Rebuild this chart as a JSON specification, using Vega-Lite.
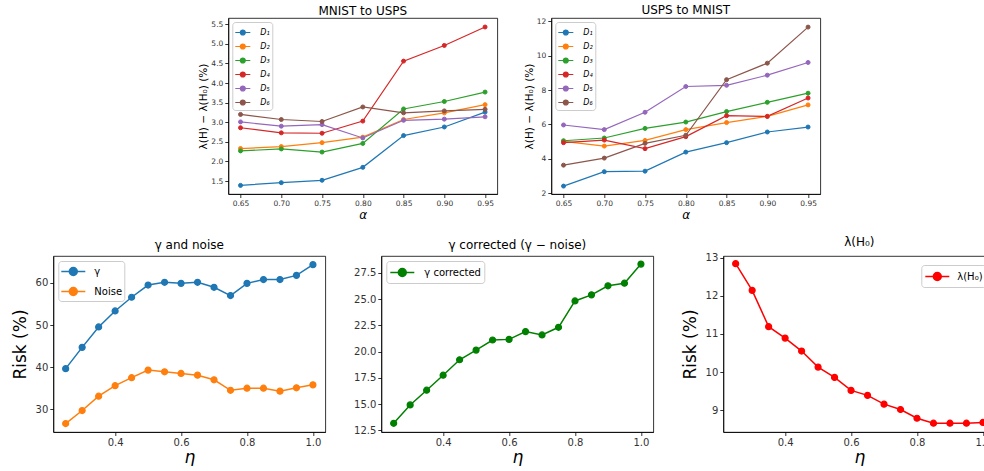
{
  "$schema": "https://vega.github.io/schema/vega-lite/v6.json",
  "padding": {"left": 10, "top": 4, "right": 0, "bottom": 0},
  "background": "white",
  "datasets": {
    "mu": [
      {"a":0.65,"s":"D₁","v":1.39},{"a":0.70,"s":"D₁","v":1.46},{"a":0.75,"s":"D₁","v":1.52},{"a":0.80,"s":"D₁","v":1.85},{"a":0.85,"s":"D₁","v":2.66},{"a":0.90,"s":"D₁","v":2.88},{"a":0.95,"s":"D₁","v":3.26},
      {"a":0.65,"s":"D₂","v":2.33},{"a":0.70,"s":"D₂","v":2.38},{"a":0.75,"s":"D₂","v":2.48},{"a":0.80,"s":"D₂","v":2.62},{"a":0.85,"s":"D₂","v":3.07},{"a":0.90,"s":"D₂","v":3.24},{"a":0.95,"s":"D₂","v":3.45},
      {"a":0.65,"s":"D₃","v":2.27},{"a":0.70,"s":"D₃","v":2.32},{"a":0.75,"s":"D₃","v":2.24},{"a":0.80,"s":"D₃","v":2.46},{"a":0.85,"s":"D₃","v":3.34},{"a":0.90,"s":"D₃","v":3.53},{"a":0.95,"s":"D₃","v":3.77},
      {"a":0.65,"s":"D₄","v":2.86},{"a":0.70,"s":"D₄","v":2.73},{"a":0.75,"s":"D₄","v":2.72},{"a":0.80,"s":"D₄","v":3.03},{"a":0.85,"s":"D₄","v":4.56},{"a":0.90,"s":"D₄","v":4.96},{"a":0.95,"s":"D₄","v":5.43},
      {"a":0.65,"s":"D₅","v":3.01},{"a":0.70,"s":"D₅","v":2.90},{"a":0.75,"s":"D₅","v":2.94},{"a":0.80,"s":"D₅","v":2.60},{"a":0.85,"s":"D₅","v":3.05},{"a":0.90,"s":"D₅","v":3.08},{"a":0.95,"s":"D₅","v":3.14},
      {"a":0.65,"s":"D₆","v":3.20},{"a":0.70,"s":"D₆","v":3.07},{"a":0.75,"s":"D₆","v":3.02},{"a":0.80,"s":"D₆","v":3.39},{"a":0.85,"s":"D₆","v":3.24},{"a":0.90,"s":"D₆","v":3.29},{"a":0.95,"s":"D₆","v":3.33}
    ],
    "um": [
      {"a":0.65,"s":"D₁","v":2.41},{"a":0.70,"s":"D₁","v":3.25},{"a":0.75,"s":"D₁","v":3.28},{"a":0.80,"s":"D₁","v":4.39},{"a":0.85,"s":"D₁","v":4.94},{"a":0.90,"s":"D₁","v":5.56},{"a":0.95,"s":"D₁","v":5.85},
      {"a":0.65,"s":"D₂","v":5.02},{"a":0.70,"s":"D₂","v":4.74},{"a":0.75,"s":"D₂","v":5.07},{"a":0.80,"s":"D₂","v":5.70},{"a":0.85,"s":"D₂","v":6.11},{"a":0.90,"s":"D₂","v":6.47},{"a":0.95,"s":"D₂","v":7.14},
      {"a":0.65,"s":"D₃","v":5.05},{"a":0.70,"s":"D₃","v":5.21},{"a":0.75,"s":"D₃","v":5.77},{"a":0.80,"s":"D₃","v":6.14},{"a":0.85,"s":"D₃","v":6.75},{"a":0.90,"s":"D₃","v":7.29},{"a":0.95,"s":"D₃","v":7.82},
      {"a":0.65,"s":"D₄","v":4.94},{"a":0.70,"s":"D₄","v":5.09},{"a":0.75,"s":"D₄","v":4.59},{"a":0.80,"s":"D₄","v":5.29},{"a":0.85,"s":"D₄","v":6.51},{"a":0.90,"s":"D₄","v":6.47},{"a":0.95,"s":"D₄","v":7.54},
      {"a":0.65,"s":"D₅","v":5.97},{"a":0.70,"s":"D₅","v":5.70},{"a":0.75,"s":"D₅","v":6.71},{"a":0.80,"s":"D₅","v":8.21},{"a":0.85,"s":"D₅","v":8.28},{"a":0.90,"s":"D₅","v":8.87},{"a":0.95,"s":"D₅","v":9.61},
      {"a":0.65,"s":"D₆","v":3.63},{"a":0.70,"s":"D₆","v":4.04},{"a":0.75,"s":"D₆","v":4.90},{"a":0.80,"s":"D₆","v":5.37},{"a":0.85,"s":"D₆","v":8.61},{"a":0.90,"s":"D₆","v":9.57},{"a":0.95,"s":"D₆","v":11.67}
    ],
    "gn": [
      {"e":0.25,"s":"γ","v":39.65},{"e":0.30,"s":"γ","v":44.7},{"e":0.35,"s":"γ","v":49.55},{"e":0.40,"s":"γ","v":53.35},{"e":0.45,"s":"γ","v":56.6},{"e":0.50,"s":"γ","v":59.5},{"e":0.55,"s":"γ","v":60.15},{"e":0.60,"s":"γ","v":59.9},{"e":0.65,"s":"γ","v":60.15},{"e":0.70,"s":"γ","v":58.97},{"e":0.75,"s":"γ","v":57.0},{"e":0.80,"s":"γ","v":59.9},{"e":0.85,"s":"γ","v":60.8},{"e":0.90,"s":"γ","v":60.8},{"e":0.95,"s":"γ","v":61.8},{"e":1.0,"s":"γ","v":64.35},
      {"e":0.25,"s":"Noise","v":26.6},{"e":0.30,"s":"Noise","v":29.7},{"e":0.35,"s":"Noise","v":33.1},{"e":0.40,"s":"Noise","v":35.6},{"e":0.45,"s":"Noise","v":37.5},{"e":0.50,"s":"Noise","v":39.3},{"e":0.55,"s":"Noise","v":38.9},{"e":0.60,"s":"Noise","v":38.5},{"e":0.65,"s":"Noise","v":38.1},{"e":0.70,"s":"Noise","v":37.0},{"e":0.75,"s":"Noise","v":34.5},{"e":0.80,"s":"Noise","v":35.0},{"e":0.85,"s":"Noise","v":35.0},{"e":0.90,"s":"Noise","v":34.3},{"e":0.95,"s":"Noise","v":35.1},{"e":1.0,"s":"Noise","v":35.8}
    ],
    "gc": [
      {"e":0.25,"s":"γ corrected","v":13.17},{"e":0.30,"s":"γ corrected","v":14.92},{"e":0.35,"s":"γ corrected","v":16.32},{"e":0.40,"s":"γ corrected","v":17.75},{"e":0.45,"s":"γ corrected","v":19.22},{"e":0.50,"s":"γ corrected","v":20.14},{"e":0.55,"s":"γ corrected","v":21.1},{"e":0.60,"s":"γ corrected","v":21.16},{"e":0.65,"s":"γ corrected","v":21.9},{"e":0.70,"s":"γ corrected","v":21.58},{"e":0.75,"s":"γ corrected","v":22.31},{"e":0.80,"s":"γ corrected","v":24.82},{"e":0.85,"s":"γ corrected","v":25.4},{"e":0.90,"s":"γ corrected","v":26.26},{"e":0.95,"s":"γ corrected","v":26.51},{"e":1.0,"s":"γ corrected","v":28.33}
    ],
    "lh": [
      {"e":0.25,"s":"λ(H₀)","v":12.84},{"e":0.30,"s":"λ(H₀)","v":12.14},{"e":0.35,"s":"λ(H₀)","v":11.19},{"e":0.40,"s":"λ(H₀)","v":10.89},{"e":0.45,"s":"λ(H₀)","v":10.55},{"e":0.50,"s":"λ(H₀)","v":10.13},{"e":0.55,"s":"λ(H₀)","v":9.86},{"e":0.60,"s":"λ(H₀)","v":9.52},{"e":0.65,"s":"λ(H₀)","v":9.39},{"e":0.70,"s":"λ(H₀)","v":9.16},{"e":0.75,"s":"λ(H₀)","v":9.02},{"e":0.80,"s":"λ(H₀)","v":8.79},{"e":0.85,"s":"λ(H₀)","v":8.66},{"e":0.90,"s":"λ(H₀)","v":8.66},{"e":0.95,"s":"λ(H₀)","v":8.66},{"e":1.0,"s":"λ(H₀)","v":8.68}
    ]
  },
  "vconcat": [
    {
      "hconcat": [
        {
          "width": 269, "height": 176,
          "title": {"text": "MNIST to USPS", "fontSize": 12, "offset": 0},
          "data": {"name": "mu"},
          "encoding": {
            "x": {"field": "a", "type": "quantitative", "scale": {"domain": [0.635, 0.965], "nice": false, "zero": false}, "axis": {"values": [0.65,0.70,0.75,0.80,0.85,0.90,0.95], "format": ".2f", "title": "α", "titleFontStyle": "italic", "titleFontSize": 12, "labelFontSize": 7.5, "titlePadding": 2}},
            "y": {"field": "v", "type": "quantitative", "scale": {"domain": [1.17, 5.66], "nice": false, "zero": false}, "axis": {"values": [1.5,2.0,2.5,3.0,3.5,4.0,4.5,5.0,5.5], "format": ".1f", "title": "λ(H) − λ(H₀)   (%)", "titleFontSize": 10.5, "labelFontSize": 7.5, "titlePadding": 2}}
          },
          "layer": [
            {"mark": {"type": "line", "strokeWidth": 1.2}, "encoding": {"stroke": {"field": "s", "type": "nominal", "scale": {"domain": ["D₁","D₂","D₃","D₄","D₅","D₆"], "range": ["#1f77b4","#ff7f0e","#2ca02c","#d62728","#9467bd","#8c564b"]}, "legend": {"orient": "top-left", "offset": 4, "title": null, "labelFontSize": 8, "labelFontStyle": "italic", "symbolType": "M-1,0H1M-0.33,0A0.33,0.33,0,1,1,0.33,0A0.33,0.33,0,1,1,-0.33,0Z", "symbolSize": 225, "symbolStrokeWidth": 1.2, "rowPadding": 0, "padding": 2, "labelOffset": 9}}}},
            {"mark": {"type": "point", "filled": true, "size": 16, "strokeWidth": 1, "opacity": 1}, "encoding": {
              "fill": {"field": "s", "type": "nominal", "scale": {"domain": ["D₁","D₂","D₃","D₄","D₅","D₆"], "range": ["#1f77b4","#ff7f0e","#2ca02c","#d62728","#9467bd","#8c564b"]}, "legend": {"orient": "top-left", "offset": 4, "title": null, "labelFontSize": 8, "labelFontStyle": "italic", "symbolType": "M-1,0H1M-0.33,0A0.33,0.33,0,1,1,0.33,0A0.33,0.33,0,1,1,-0.33,0Z", "symbolSize": 225, "symbolStrokeWidth": 1.2, "rowPadding": 0, "padding": 2, "labelOffset": 9}},
              "stroke": {"field": "s", "type": "nominal", "scale": {"domain": ["D₁","D₂","D₃","D₄","D₅","D₆"], "range": ["#1f77b4","#ff7f0e","#2ca02c","#d62728","#9467bd","#8c564b"]}, "legend": {"orient": "top-left", "offset": 4, "title": null, "labelFontSize": 8, "labelFontStyle": "italic", "symbolType": "M-1,0H1M-0.33,0A0.33,0.33,0,1,1,0.33,0A0.33,0.33,0,1,1,-0.33,0Z", "symbolSize": 225, "symbolStrokeWidth": 1.2, "rowPadding": 0, "padding": 2, "labelOffset": 9}}
            }}
          ]
        },
        {
          "width": 269, "height": 176,
          "title": {"text": "USPS to MNIST", "fontSize": 12, "offset": 0},
          "data": {"name": "um"},
          "encoding": {
            "x": {"field": "a", "type": "quantitative", "scale": {"domain": [0.635, 0.965], "nice": false, "zero": false}, "axis": {"values": [0.65,0.70,0.75,0.80,0.85,0.90,0.95], "format": ".2f", "title": "α", "titleFontStyle": "italic", "titleFontSize": 12, "labelFontSize": 7.5, "titlePadding": 2}},
            "y": {"field": "v", "type": "quantitative", "scale": {"domain": [1.95, 12.2], "nice": false, "zero": false}, "axis": {"values": [2,4,6,8,10,12], "format": "d", "title": "λ(H) − λ(H₀)   (%)", "titleFontSize": 10.5, "labelFontSize": 7.5, "titlePadding": 2}}
          },
          "layer": [
            {"mark": {"type": "line", "strokeWidth": 1.2}, "encoding": {"stroke": {"field": "s", "type": "nominal", "scale": {"domain": ["D₁","D₂","D₃","D₄","D₅","D₆"], "range": ["#1f77b4","#ff7f0e","#2ca02c","#d62728","#9467bd","#8c564b"]}, "legend": {"orient": "top-left", "offset": 4, "title": null, "labelFontSize": 8, "labelFontStyle": "italic", "symbolType": "M-1,0H1M-0.33,0A0.33,0.33,0,1,1,0.33,0A0.33,0.33,0,1,1,-0.33,0Z", "symbolSize": 225, "symbolStrokeWidth": 1.2, "rowPadding": 0, "padding": 2, "labelOffset": 9}}}},
            {"mark": {"type": "point", "filled": true, "size": 16, "strokeWidth": 1, "opacity": 1}, "encoding": {
              "fill": {"field": "s", "type": "nominal", "scale": {"domain": ["D₁","D₂","D₃","D₄","D₅","D₆"], "range": ["#1f77b4","#ff7f0e","#2ca02c","#d62728","#9467bd","#8c564b"]}, "legend": {"orient": "top-left", "offset": 4, "title": null, "labelFontSize": 8, "labelFontStyle": "italic", "symbolType": "M-1,0H1M-0.33,0A0.33,0.33,0,1,1,0.33,0A0.33,0.33,0,1,1,-0.33,0Z", "symbolSize": 225, "symbolStrokeWidth": 1.2, "rowPadding": 0, "padding": 2, "labelOffset": 9}},
              "stroke": {"field": "s", "type": "nominal", "scale": {"domain": ["D₁","D₂","D₃","D₄","D₅","D₆"], "range": ["#1f77b4","#ff7f0e","#2ca02c","#d62728","#9467bd","#8c564b"]}, "legend": {"orient": "top-left", "offset": 4, "title": null, "labelFontSize": 8, "labelFontStyle": "italic", "symbolType": "M-1,0H1M-0.33,0A0.33,0.33,0,1,1,0.33,0A0.33,0.33,0,1,1,-0.33,0Z", "symbolSize": 225, "symbolStrokeWidth": 1.2, "rowPadding": 0, "padding": 2, "labelOffset": 9}}
            }}
          ]
        }
      ],
      "spacing": 25,
      "resolve": {"scale": {"fill": "independent", "stroke": "independent", "color": "independent"}}
    },
    {
      "hconcat": [
        {
          "width": 272, "height": 176,
          "title": {"text": "γ and noise", "fontSize": 12, "offset": 4},
          "data": {"name": "gn"},
          "encoding": {
            "x": {"field": "e", "type": "quantitative", "scale": {"domain": [0.2125, 1.0375], "nice": false, "zero": false}, "axis": {"values": [0.4,0.6,0.8,1.0], "format": ".1f", "title": "η", "titleFontStyle": "italic", "titleFontSize": 17, "labelFontSize": 10, "titlePadding": 2}},
            "y": {"field": "v", "type": "quantitative", "scale": {"domain": [24.6, 66.4], "nice": false, "zero": false}, "axis": {"values": [30,40,50,60], "format": "d", "title": "Risk (%)", "titleFontSize": 17, "labelFontSize": 10, "titlePadding": 6}}
          },
          "layer": [
            {"mark": {"type": "line", "strokeWidth": 1.5}, "encoding": {"stroke": {"field": "s", "type": "nominal", "scale": {"domain": ["γ","Noise"], "range": ["#1f77b4","#ff7f0e"]}, "legend": {"orient": "top-left", "offset": 5, "title": null, "labelFontSize": 10, "symbolType": "M-1,0H2.2M0.07,0A0.53,0.53,0,1,1,1.13,0A0.53,0.53,0,1,1,0.07,0Z", "symbolSize": 225, "symbolStrokeWidth": 1.5, "rowPadding": 4, "padding": 2, "labelOffset": 17}}}},
            {"mark": {"type": "point", "filled": true, "size": 36, "strokeWidth": 1.2, "opacity": 1}, "encoding": {
              "fill": {"field": "s", "type": "nominal", "scale": {"domain": ["γ","Noise"], "range": ["#1f77b4","#ff7f0e"]}, "legend": {"orient": "top-left", "offset": 5, "title": null, "labelFontSize": 10, "symbolType": "M-1,0H2.2M0.07,0A0.53,0.53,0,1,1,1.13,0A0.53,0.53,0,1,1,0.07,0Z", "symbolSize": 225, "symbolStrokeWidth": 1.5, "rowPadding": 4, "padding": 2, "labelOffset": 17}},
              "stroke": {"field": "s", "type": "nominal", "scale": {"domain": ["γ","Noise"], "range": ["#1f77b4","#ff7f0e"]}, "legend": {"orient": "top-left", "offset": 5, "title": null, "labelFontSize": 10, "symbolType": "M-1,0H2.2M0.07,0A0.53,0.53,0,1,1,1.13,0A0.53,0.53,0,1,1,0.07,0Z", "symbolSize": 225, "symbolStrokeWidth": 1.5, "rowPadding": 4, "padding": 2, "labelOffset": 17}}
            }}
          ]
        },
        {
          "width": 272, "height": 176,
          "title": {"text": "γ corrected (γ − noise)", "fontSize": 12, "offset": 4},
          "data": {"name": "gc"},
          "encoding": {
            "x": {"field": "e", "type": "quantitative", "scale": {"domain": [0.2125, 1.0375], "nice": false, "zero": false}, "axis": {"values": [0.4,0.6,0.8,1.0], "format": ".1f", "title": "η", "titleFontStyle": "italic", "titleFontSize": 17, "labelFontSize": 10, "titlePadding": 2}},
            "y": {"field": "v", "type": "quantitative", "scale": {"domain": [12.34, 29.1], "nice": false, "zero": false}, "axis": {"values": [12.5,15.0,17.5,20.0,22.5,25.0,27.5], "format": ".1f", "title": null, "labelFontSize": 10}}
          },
          "layer": [
            {"mark": {"type": "line", "strokeWidth": 1.5}, "encoding": {"stroke": {"field": "s", "type": "nominal", "scale": {"domain": ["γ corrected"], "range": ["#008000"]}, "legend": {"orient": "top-left", "offset": 5, "title": null, "labelFontSize": 10, "symbolType": "M-1,0H2.2M0.07,0A0.53,0.53,0,1,1,1.13,0A0.53,0.53,0,1,1,0.07,0Z", "symbolSize": 225, "symbolStrokeWidth": 1.5, "padding": 3, "labelOffset": 18}}}},
            {"mark": {"type": "point", "filled": true, "size": 36, "strokeWidth": 1.2, "opacity": 1}, "encoding": {
              "fill": {"field": "s", "type": "nominal", "scale": {"domain": ["γ corrected"], "range": ["#008000"]}, "legend": {"orient": "top-left", "offset": 5, "title": null, "labelFontSize": 10, "symbolType": "M-1,0H2.2M0.07,0A0.53,0.53,0,1,1,1.13,0A0.53,0.53,0,1,1,0.07,0Z", "symbolSize": 225, "symbolStrokeWidth": 1.5, "padding": 3, "labelOffset": 18}},
              "stroke": {"field": "s", "type": "nominal", "scale": {"domain": ["γ corrected"], "range": ["#008000"]}, "legend": {"orient": "top-left", "offset": 5, "title": null, "labelFontSize": 10, "symbolType": "M-1,0H2.2M0.07,0A0.53,0.53,0,1,1,1.13,0A0.53,0.53,0,1,1,0.07,0Z", "symbolSize": 225, "symbolStrokeWidth": 1.5, "padding": 3, "labelOffset": 18}}
            }}
          ]
        },
        {
          "width": 272, "height": 176,
          "title": {"text": "λ(H₀)", "fontSize": 12, "offset": 4},
          "data": {"name": "lh"},
          "encoding": {
            "x": {"field": "e", "type": "quantitative", "scale": {"domain": [0.2125, 1.0375], "nice": false, "zero": false}, "axis": {"values": [0.4,0.6,0.8,1.0], "format": ".1f", "title": "η", "titleFontStyle": "italic", "titleFontSize": 17, "labelFontSize": 10, "titlePadding": 2}},
            "y": {"field": "v", "type": "quantitative", "scale": {"domain": [8.43, 13.04], "nice": false, "zero": false}, "axis": {"values": [9,10,11,12,13], "format": "d", "title": "Risk (%)", "titleFontSize": 17, "labelFontSize": 10, "titlePadding": 6}}
          },
          "layer": [
            {"mark": {"type": "line", "strokeWidth": 1.5}, "encoding": {"stroke": {"field": "s", "type": "nominal", "scale": {"domain": ["λ(H₀)"], "range": ["#ff0000"]}, "legend": {"orient": "top-right", "offset": 9, "title": null, "labelFontSize": 10, "symbolType": "M-1,0H2.2M0.07,0A0.53,0.53,0,1,1,1.13,0A0.53,0.53,0,1,1,0.07,0Z", "symbolSize": 225, "symbolStrokeWidth": 1.5, "padding": 3, "labelOffset": 16}}}},
            {"mark": {"type": "point", "filled": true, "size": 36, "strokeWidth": 1.2, "opacity": 1}, "encoding": {
              "fill": {"field": "s", "type": "nominal", "scale": {"domain": ["λ(H₀)"], "range": ["#ff0000"]}, "legend": {"orient": "top-right", "offset": 9, "title": null, "labelFontSize": 10, "symbolType": "M-1,0H2.2M0.07,0A0.53,0.53,0,1,1,1.13,0A0.53,0.53,0,1,1,0.07,0Z", "symbolSize": 225, "symbolStrokeWidth": 1.5, "padding": 3, "labelOffset": 16}},
              "stroke": {"field": "s", "type": "nominal", "scale": {"domain": ["λ(H₀)"], "range": ["#ff0000"]}, "legend": {"orient": "top-right", "offset": 9, "title": null, "labelFontSize": 10, "symbolType": "M-1,0H2.2M0.07,0A0.53,0.53,0,1,1,1.13,0A0.53,0.53,0,1,1,0.07,0Z", "symbolSize": 225, "symbolStrokeWidth": 1.5, "padding": 3, "labelOffset": 16}}
            }}
          ]
        }
      ],
      "spacing": 26,
      "resolve": {"scale": {"fill": "independent", "stroke": "independent", "color": "independent"}}
    }
  ],
  "spacing": 14,
  "center": true,
  "resolve": {"scale": {"fill": "independent", "stroke": "independent", "color": "independent"}},
  "config": {
    "font": "DejaVu Sans",
    "view": {"stroke": "#000", "strokeWidth": 0.8},
    "axis": {"grid": false, "domainColor": "#000", "domainWidth": 0.8, "tickColor": "#000", "tickWidth": 0.8, "tickSize": 3.5, "labelColor": "#333", "labelFont": "DejaVu Sans", "titleFont": "DejaVu Sans", "titleFontWeight": "normal", "titleColor": "#000", "labelPadding": 2},
    "title": {"font": "DejaVu Sans", "fontWeight": "normal", "color": "#000"},
    "legend": {"strokeColor": "#cccccc", "fillColor": "#ffffff", "cornerRadius": 3, "labelFont": "DejaVu Sans", "labelColor": "#000"}
  }
}
